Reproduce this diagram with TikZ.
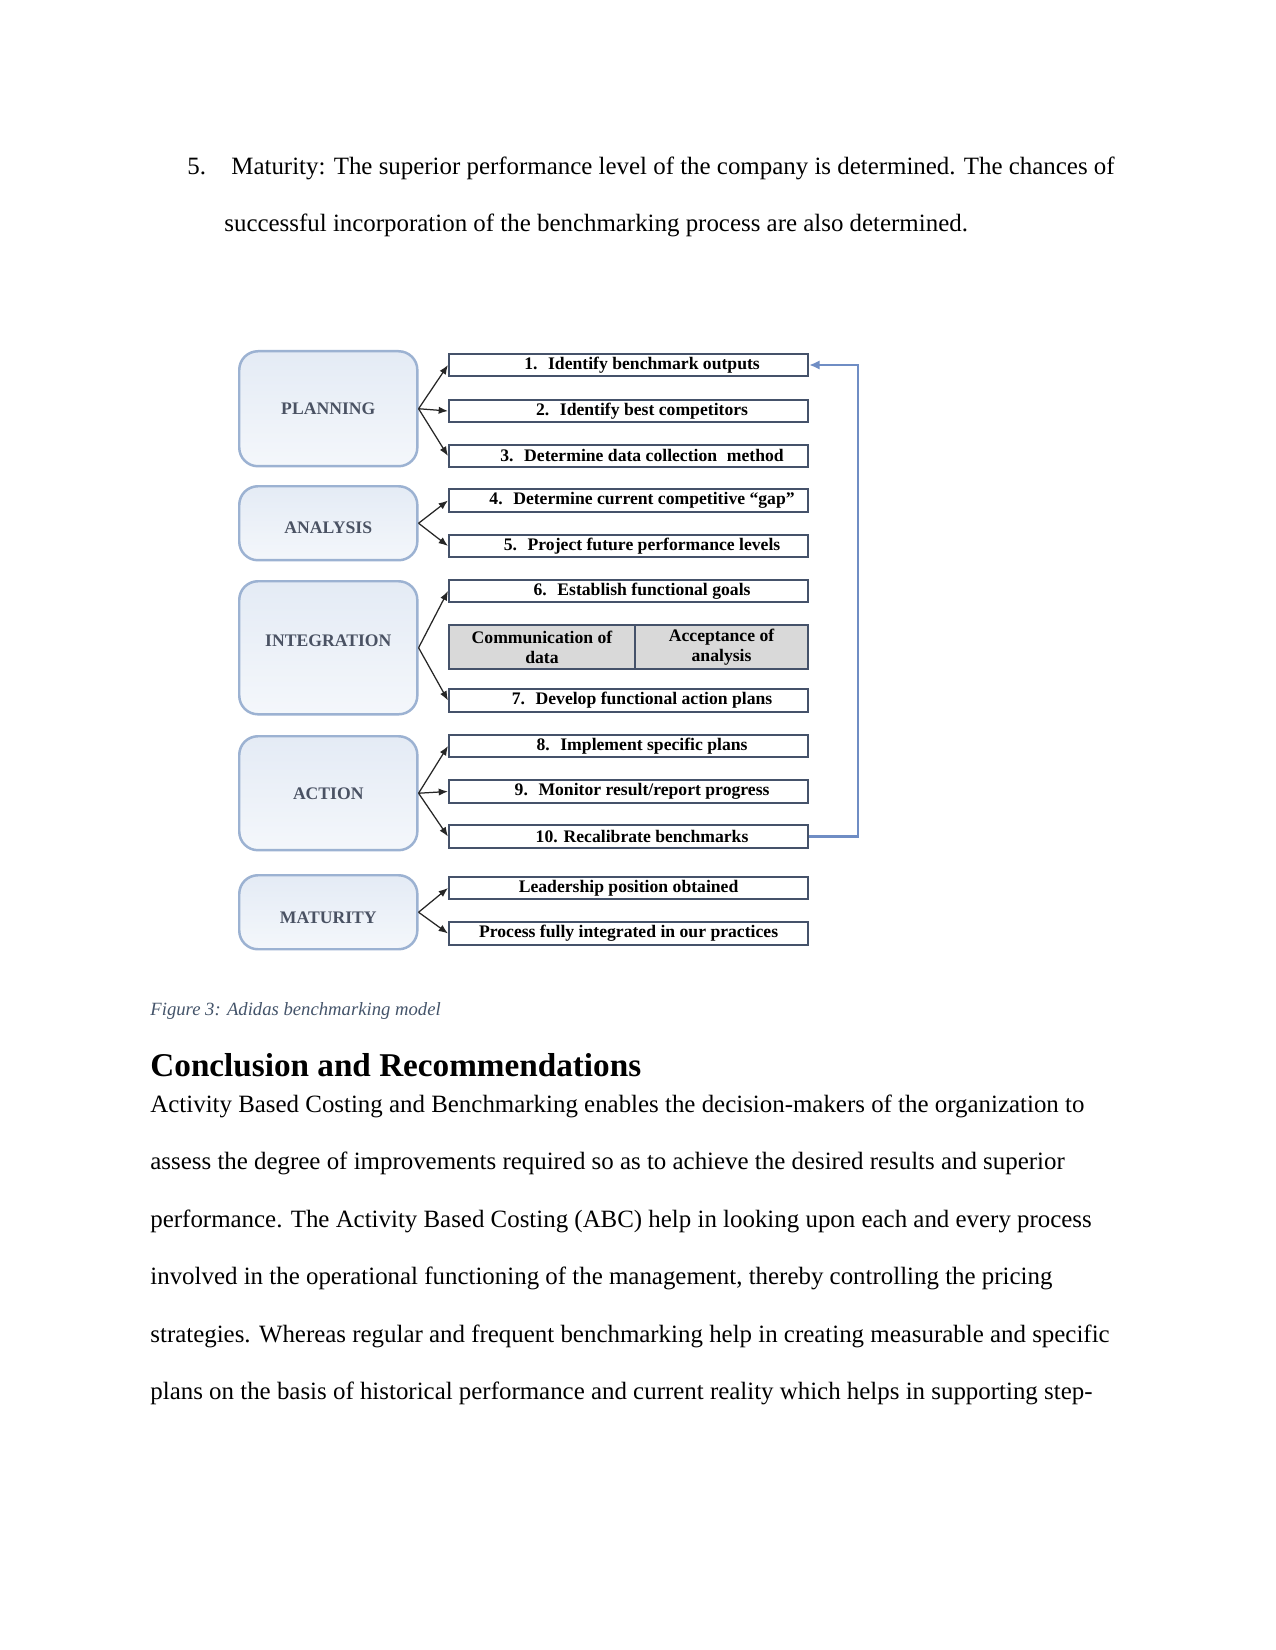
\documentclass[tikz,border=0pt]{standalone}
\usepackage{fontspec}
\setmainfont{Liberation Serif}
\usetikzlibrary{arrows.meta}
\definecolor{lbord}{HTML}{9CB2D2}
\definecolor{ltop}{HTML}{E4EBF5}
\definecolor{lbot}{HTML}{F4F7FB}
\definecolor{ltext}{HTML}{4A5263}
\definecolor{rbord}{HTML}{45526A}
\definecolor{cellgray}{HTML}{D9D9D9}
\definecolor{fbblue}{HTML}{6F8DC4}
\definecolor{capgray}{HTML}{44546A}
\tikzset{
  phase/.style={draw=lbord, line width=1.2pt, rounded corners=9pt, top color=ltop, bottom color=lbot,
    minimum width=85.8pt, inner sep=0pt, anchor=north west, text=ltext, text height=6pt, text depth=0pt,
    font=\bfseries\fontsize{8.5}{10}\selectfont},
  stepbox/.style={draw=rbord, line width=1pt, fill=white, minimum width=173pt, minimum height=10.8pt,
    inner sep=0pt, anchor=west, font=\bfseries\fontsize{8.5}{9.5}\selectfont},
  cell/.style={draw=rbord, line width=1pt, fill=cellgray, minimum height=21.2pt, inner sep=0pt,
    anchor=north west, align=center, font=\bfseries\fontsize{8.5}{9.6}\selectfont},
  arr/.style={draw=black!85, line width=0.6pt, -{Latex[length=4.5pt,width=3.5pt]}},
  fb/.style={draw=fbblue, line width=1.3pt, -{Latex[length=5pt,width=4.5pt]}},
  body/.style={anchor=base west, inner sep=0pt, font=\fontsize{12}{14}\selectfont},
}
\begin{document}
\begin{tikzpicture}[x=0.4818pt,y=-0.4818pt]
\fill[white] (0,0) rectangle (1275,1650);
\useasboundingbox (0,0) rectangle (1275,1650);

% intro text
\node[body] (n5) at (187,174.5) {5.};
\node[body] (t1) at (231,174.5) {Maturity: The superior performance level of the company is determined. The chances of};
\node[body] (t2) at (224,231.5) {successful incorporation of the benchmarking process are also determined.};

% phase boxes
\node[phase, minimum height=55.4pt] (plan) at (238,350) {PLANNING};
\node[phase, minimum height=35.65pt] (anal) at (238,485) {\raisebox{-2pt}{ANALYSIS}};
\node[phase, minimum height=64.1pt] (integ) at (238,580) {\raisebox{3.5pt}{INTEGRATION}};
\node[phase, minimum height=54.9pt] (act) at (238,735) {ACTION};
\node[phase, minimum height=35.65pt] (mat) at (238,874) {\raisebox{-2.5pt}{MATURITY}};

% step boxes
\node[stepbox] (b1) at (448,365) {\hspace*{13pt}1.\hspace{0.6em}Identify benchmark outputs};
\node[stepbox] (b2) at (448,411) {\hspace*{13pt}2.\hspace{0.6em}Identify best competitors};
\node[stepbox] (b3) at (448,456) {\hspace*{13pt}3.\hspace{0.6em}Determine data collection\hspace{0.3em} method};
\node[stepbox] (b4) at (448,500.5) {\hspace*{13pt}4.\hspace{0.6em}Determine current competitive ``gap''};
\node[stepbox] (b5) at (448,546) {\hspace*{13pt}5.\hspace{0.6em}Project future performance levels};
\node[stepbox] (b6) at (448,591) {\hspace*{13pt}6.\hspace{0.6em}Establish functional goals};
\node[cell, minimum width=89.6pt] (c1) at (448,624) {Communication of\\data};
\node[cell, minimum width=83.35pt] (c2) at (634,624) {Acceptance of\\analysis};
\node[stepbox] (b7) at (448,700.5) {\hspace*{13pt}7.\hspace{0.6em}Develop functional action plans};
\node[stepbox] (b8) at (448,746) {\hspace*{13pt}8.\hspace{0.6em}Implement specific plans};
\node[stepbox] (b9) at (448,791.5) {\hspace*{13pt}9.\hspace{0.6em}Monitor result/report progress};
\node[stepbox] (b10) at (448,836.5) {\hspace*{13pt}10. Recalibrate benchmarks};
\node[stepbox] (m1) at (448,888) {Leadership position obtained};
\node[stepbox] (m2) at (448,933.5) {Process fully integrated in our practices};

% connectors
\draw[arr] (plan.east) -- (b1.west);
\draw[arr] (plan.east) -- (b2.west);
\draw[arr] (plan.east) -- (b3.west);
\draw[arr] (anal.east) -- (b4.west);
\draw[arr] (anal.east) -- (b5.west);
\draw[arr] (integ.east) -- (b6.west);
\draw[arr] (integ.east) -- (b7.west);
\draw[arr] (act.east) -- (b8.west);
\draw[arr] (act.east) -- (b9.west);
\draw[arr] (act.east) -- (b10.west);
\draw[arr] (mat.east) -- (m1.west);
\draw[arr] (mat.east) -- (m2.west);

% feedback loop
\coordinate (fbx) at (858,0);
\draw[fb] (b10.east) -- (b10.east -| fbx) |- (b1.east);

% caption and following text
\node[anchor=base west, inner sep=0pt, text=capgray, font=\itshape\fontsize{9}{11}\selectfont] (cap) at (150,1015) {Figure 3: Adidas benchmarking model};
\node[anchor=base west, inner sep=0pt, font=\bfseries\fontsize{16}{19}\selectfont] (head) at (150,1076.5) {Conclusion and Recommendations};
\node[body] (p1) at (150,1112) {Activity Based Costing and Benchmarking enables the decision-makers of the organization to};
\node[body] (p2) at (150,1169.5) {assess the degree of improvements required so as to achieve the desired results and superior};
\node[body] (p3) at (150,1227) {performance. The Activity Based Costing (ABC) help in looking upon each and every process};
\node[body] (p4) at (150,1284.5) {involved in the operational functioning of the management, thereby controlling the pricing};
\node[body] (p5) at (150,1342) {strategies. Whereas regular and frequent benchmarking help in creating measurable and specific};
\node[body] (p6) at (150,1399.5) {plans on the basis of historical performance and current reality which helps in supporting step-};
\end{tikzpicture}
\end{document}
